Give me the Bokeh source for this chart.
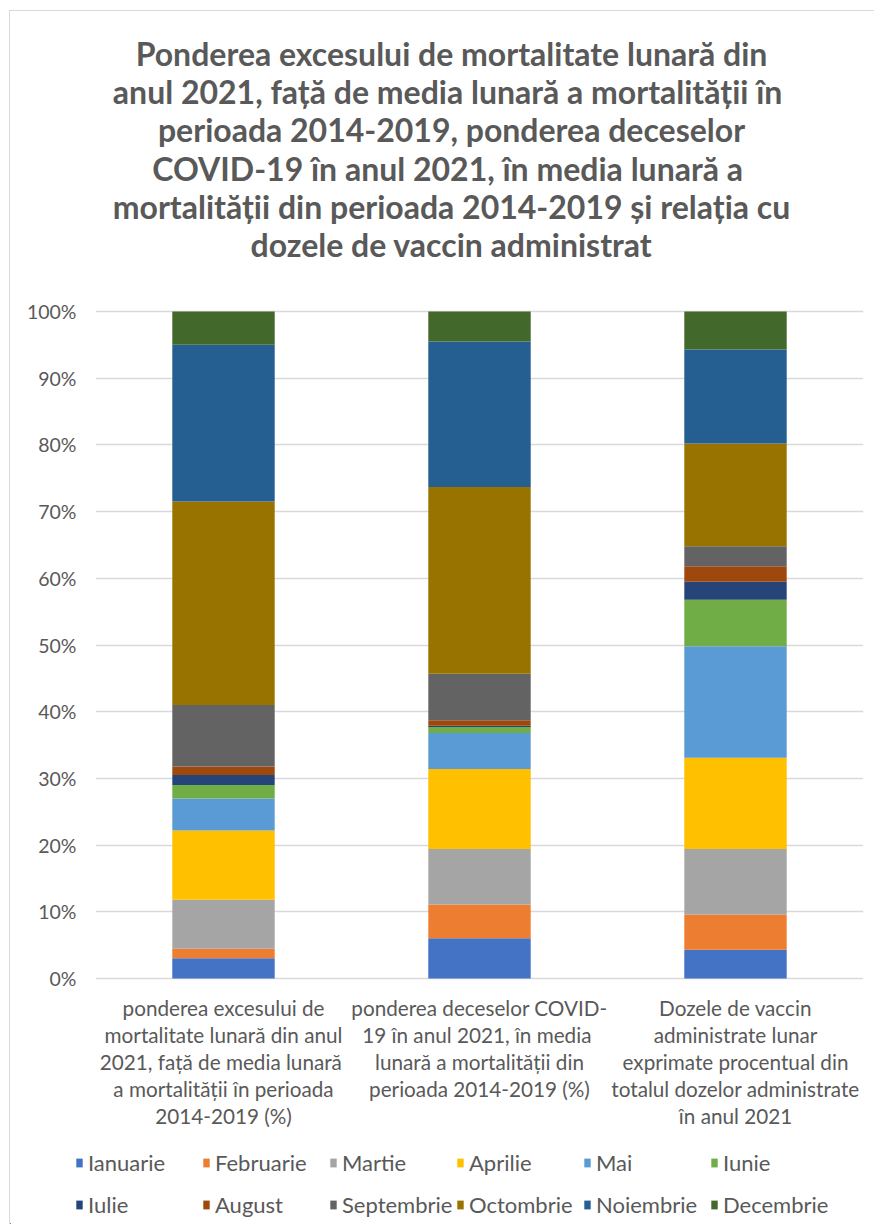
from bokeh.plotting import figure
from bokeh.layouts import column
from bokeh.models import ColumnDataSource, FixedTicker, Legend, LegendItem, Range1d
from bokeh.core.properties import value
from bokeh.embed import file_html
from bokeh.resources import INLINE

# ---------------- data ----------------
months = ["Ianuarie", "Februarie", "Martie", "Aprilie", "Mai", "Iunie",
          "Iulie", "August", "Septembrie", "Octombrie", "Noiembrie", "Decembrie"]
colors = ["#4472C4", "#ED7D31", "#A5A5A5", "#FFC000", "#5B9BD5", "#70AD47",
          "#264478", "#9E480E", "#636363", "#997300", "#255E91", "#43682B"]

categories = [
    "ponderea excesului de\nmortalitate lunară din anul\n2021,  față de media lunară\na mortalității în perioada\n2014-2019 (%)",
    "ponderea deceselor COVID-\n19  în anul 2021, în media\nlunară a mortalității din\nperioada 2014-2019 (%)",
    "Dozele de vaccin\nadministrate lunar\nexprimate procentual din\ntotalul dozelor administrate\nîn anul 2021",
]

# share (%) of each month, per category
excess_share = [3.05, 1.4, 7.35, 10.4, 4.8, 2.0, 1.5, 1.3, 9.2, 30.5, 23.5, 5.0]
covid_share = [6.05, 5.05, 8.3, 12.0, 5.4, 0.9, 0.2, 0.8, 7.0, 28.0, 21.8, 4.5]
vaccine_share = [4.3, 5.3, 9.8, 13.7, 16.7, 7.0, 2.7, 2.3, 3.0, 15.4, 14.1, 5.7]

y_ticks = [0, 10, 20, 30, 40, 50, 60, 70, 80, 90, 100]
y_tick_labels = ["0%", "10%", "20%", "30%", "40%", "50%", "60%", "70%", "80%", "90%", "100%"]

title_lines = [
    "Ponderea excesului de mortalitate lunară din",
    "anul 2021,  față de media lunară a mortalității în",
    "perioada 2014-2019, ponderea deceselor",
    "COVID-19  în anul 2021, în media lunară a",
    "mortalității din perioada 2014-2019 și relația cu",
    "dozele de vaccin administrat",
]

# ---------------- layout (page pixel geometry) ----------------
CX, CY = 10, 11            # canvas origin on the page
W = 864
FRAME_L, FRAME_R = 95, 863
FRAME_B = 1140
H1 = FRAME_B - CY
H2 = 84
ML, MR = FRAME_L - CX, (CX + W) - FRAME_R
Y0_PAGE, Y100_PAGE = 978.0, 311.0
PX_PER_PCT = (Y0_PAGE - Y100_PAGE) / 100.0
PX_PER_X = (FRAME_R - FRAME_L) / 3.0

def ydata(page_y):
    return (Y0_PAGE - page_y) / PX_PER_PCT

def xdata(page_x):
    return (page_x - FRAME_L) / PX_PER_X

TXT = "#595959"
FONT = "Lato"

p = figure(width=W, height=H1, output_backend="svg", toolbar_location=None,
           x_axis_location=None, title=None,
           x_range=Range1d(0, 3),
           y_range=Range1d(ydata(FRAME_B), ydata(CY)),
           min_border_left=ML, min_border_right=MR,
           min_border_top=0, min_border_bottom=0)
p.frame_align = False
p.outline_line_color = None
p.xgrid.visible = False

ticker = FixedTicker(ticks=y_ticks)
p.yaxis.ticker = ticker
p.ygrid.ticker = ticker
p.ygrid.grid_line_color = "#d9d9d9"
p.ygrid.grid_line_width = 1.5
p.yaxis.major_label_overrides = {t: l for t, l in zip(y_ticks, y_tick_labels)}
p.yaxis.axis_line_color = None
p.yaxis.major_tick_line_color = None
p.yaxis.minor_tick_line_color = None
p.yaxis.major_tick_out = 0
p.yaxis.major_tick_in = 0
p.yaxis.major_label_standoff = 19
p.yaxis.major_label_text_font = FONT
p.yaxis.major_label_text_font_size = "19.5px"
p.yaxis.major_label_text_color = TXT

# bars
xs = [0.5, 1.5, 2.5]
data = {"x": xs}
for i, m in enumerate(months):
    data[m] = [excess_share[i], covid_share[i], vaccine_share[i]]
src = ColumnDataSource(data)
rs = p.vbar_stack(months, x="x", width=0.4, fill_color=colors, line_color=None, source=src)

# title
t_y = [ydata(53 + 38.2 * i) for i in range(len(title_lines))]
p.text(x=[xdata(451)] * len(title_lines), y=t_y, text=title_lines,
       text_font=value(FONT), text_font_style="bold", text_font_size="32px",
       text_color=TXT, text_align="center", text_baseline="middle")

# category labels
cx, cy, ct = [], [], []
for x, lab in zip(xs, categories):
    for j, line in enumerate(lab.split("\n")):
        cx.append(x)
        cy.append(ydata(1007 + 27 * j))
        ct.append(line)
p.text(x=cx, y=cy, text=ct, text_font=value(FONT), text_font_size="20.7px",
       text_color=TXT, text_align="center", text_baseline="middle")

# ---------------- legend strip ----------------
pl = figure(width=W, height=H2, output_backend="svg", toolbar_location=None,
            x_axis_location=None, y_axis_location=None, title=None,
            x_range=Range1d(0, W), y_range=Range1d(0, H2),
            min_border_left=0, min_border_right=0,
            min_border_top=0, min_border_bottom=0)
pl.frame_align = False
pl.outline_line_color = None
pl.grid.visible = False
# one swatch per month (placed outside the visible range; only used by the legend)
leg_rs = [pl.vbar(x=[-50], top=[1], width=1, fill_color=c, line_color=None) for c in colors]
legend = Legend(items=[LegendItem(label=m, renderers=[r]) for m, r in zip(months, leg_rs)],
                orientation="horizontal", ncols=6, nrows=2,
                location=(75 - CX, 0),
                glyph_width=8, glyph_height=11, label_standoff=5,
                label_width=111, label_height=39, spacing=3,
                padding=0, margin=0, border_line_color=None,
                background_fill_alpha=0,
                label_text_font=FONT, label_text_font_size="22px",
                label_text_color=TXT)
pl.add_layout(legend, "center")

page = column(p, pl, spacing=0,
              styles={"margin-left": "9px", "margin-top": "10px",
                      "border-left": "1px solid #d9d9d9", "border-top": "1px solid #d9d9d9"})

open("out.html", "w").write(file_html(page, INLINE))
